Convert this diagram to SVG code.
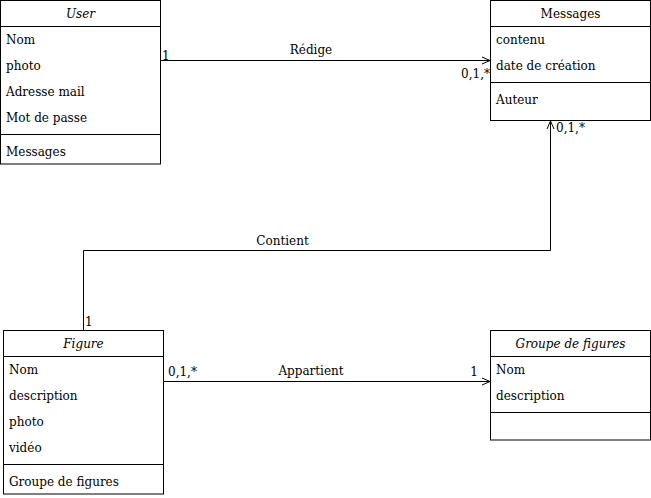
<svg xmlns="http://www.w3.org/2000/svg" width="651" height="498" viewBox="0 0 651 498">
<defs>
<style>
text{font-family:"DejaVu Serif",serif;font-size:12px;fill:#000}
.i{font-style:italic}
.m{text-anchor:middle}
.e{text-anchor:end}
.b,line,path{fill:none;stroke:#000;stroke-width:1}
.b{fill:#fff}
</style>
<marker id="arr" viewBox="0 0 10 10" refX="9" refY="5" markerWidth="10" markerHeight="10" markerUnits="userSpaceOnUse" orient="auto">
<path d="M1,1.5 L9,5 L1,8.5" fill="none" stroke="#000" stroke-width="1"/>
</marker>
</defs>
<rect width="651" height="498" fill="#fff"/>
<g id="connectors">
<line x1="160.5" y1="60.5" x2="490" y2="60.5" marker-end="url(#arr)"/>
<text x="311" y="54" class="m">Rédige</text>
<text x="162" y="60">1</text>
<text x="490" y="78" class="e">0,1,*</text>
<path d="M83.5,330 V250.5 H550.5 V121" marker-end="url(#arr)"/>
<text x="282.5" y="245" class="m">Contient</text>
<text x="85" y="326">1</text>
<text x="556" y="132">0,1,*</text>
<line x1="163.5" y1="381.5" x2="490" y2="381.5" marker-end="url(#arr)"/>
<path d="M163.5,381.5 Q162.5,380 163.5,378.5"/>
<text x="311" y="375" class="m">Appartient</text>
<text x="168" y="376">0,1,*</text>
<text x="478" y="376" class="e">1</text>
</g>
<g id="user">
<rect class="b" x="0.5" y="0.5" width="160" height="163.5"/>
<line x1="0.5" y1="26.5" x2="160.5" y2="26.5"/>
<line x1="0.5" y1="134.5" x2="160.5" y2="134.5"/>
<text x="80.5" y="18" class="m i">User</text>
<text x="6" y="44">Nom</text>
<text x="6" y="70">photo</text>
<text x="6" y="96">Adresse mail</text>
<text x="6" y="122">Mot de passe</text>
<text x="6" y="156">Messages</text>
</g>
<g id="messages">
<rect class="b" x="490.5" y="0.5" width="160" height="120"/>
<line x1="490.5" y1="26.5" x2="650.5" y2="26.5"/>
<line x1="490.5" y1="82.5" x2="650.5" y2="82.5"/>
<text x="570.5" y="18" class="m">Messages</text>
<text x="496" y="44">contenu</text>
<text x="496" y="70">date de création</text>
<text x="496" y="104">Auteur</text>
</g>
<g id="figure">
<rect class="b" x="3.5" y="330.5" width="160" height="163.5"/>
<line x1="3.5" y1="356.5" x2="163.5" y2="356.5"/>
<line x1="3.5" y1="464.5" x2="163.5" y2="464.5"/>
<text x="83.5" y="348" class="m i">Figure</text>
<text x="9" y="374">Nom</text>
<text x="9" y="400">description</text>
<text x="9" y="426">photo</text>
<text x="9" y="452">vidéo</text>
<text x="9" y="486">Groupe de figures</text>
</g>
<g id="groupe">
<rect class="b" x="490.5" y="330.5" width="160" height="109.5"/>
<line x1="490.5" y1="356.5" x2="650.5" y2="356.5"/>
<line x1="490.5" y1="412.5" x2="650.5" y2="412.5"/>
<text x="570.5" y="348" class="m i">Groupe de figures</text>
<text x="496" y="374">Nom</text>
<text x="496" y="400">description</text>
</g>
</svg>
